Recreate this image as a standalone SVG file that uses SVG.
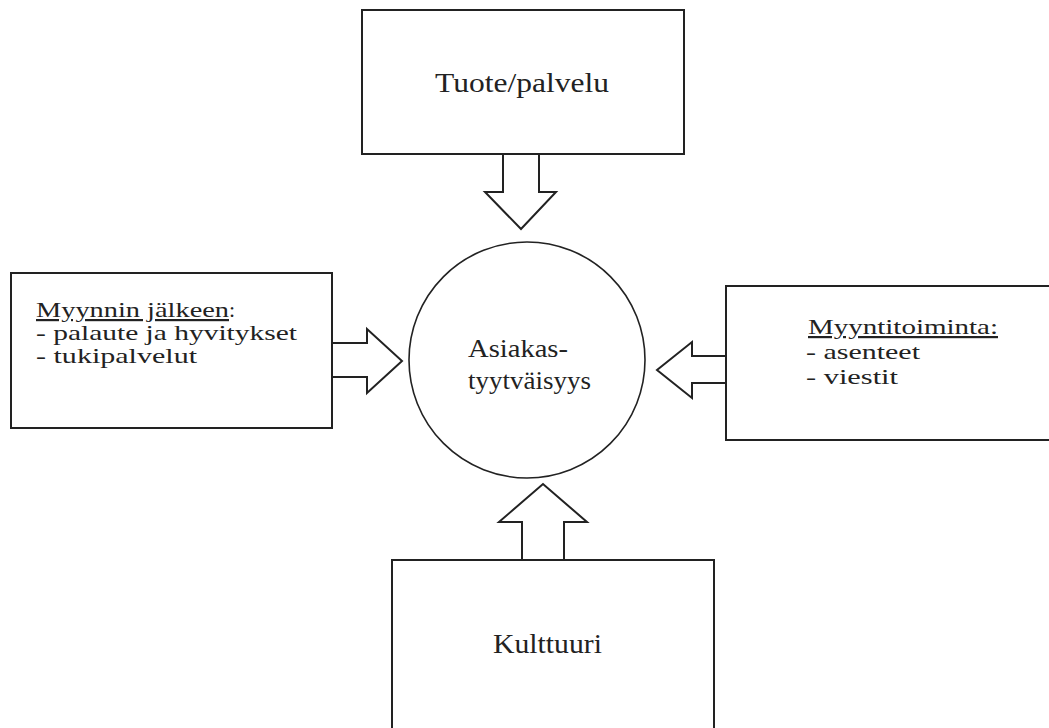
<svg xmlns="http://www.w3.org/2000/svg" width="1049" height="728" viewBox="0 0 1049 728">
<style>
.box{fill:#fff;stroke:#222;stroke-width:2}
.circ{fill:#fff;stroke:#222;stroke-width:1.6}
.arr{fill:#fff;stroke:#222;stroke-width:2;stroke-linejoin:miter}
.t{font-family:"Liberation Serif","Times New Roman",serif;fill:#222}
.u{text-decoration:underline}
</style>
<rect width="1049" height="728" fill="#fff"/>
<g id="connectors">
<polygon class="arr" points="503,154 503,192 485,192 521,229 556,192 539,192 539,154"/>
<polygon class="arr" points="332,343 367,343 367,329 402,361 367,393 367,377 332,377"/>
<polygon class="arr" points="726,356 692,356 692,342 657,370 692,398 692,383 726,383"/>
<polygon class="arr" points="522,560 522,522 499,522 543,484 587,522 564,522 564,560"/>
</g>
<g id="node-tuote">
<rect class="box" x="362" y="10" width="322" height="144"/>
<text class="t" x="435" y="92" font-size="28" textLength="174" lengthAdjust="spacingAndGlyphs">Tuote/palvelu</text>
</g>
<g id="node-asiakastyytyvaisyys">
<circle class="circ" cx="527" cy="360" r="118"/>
<text class="t" x="468" y="357" font-size="26" textLength="100" lengthAdjust="spacingAndGlyphs">Asiakas-</text>
<text class="t" x="468" y="389" font-size="26" textLength="123" lengthAdjust="spacingAndGlyphs">tyytväisyys</text>
</g>
<g id="node-myynnin-jalkeen">
<rect class="box" x="11" y="273" width="321" height="155"/>
<text class="t u" x="36" y="317" font-size="22" textLength="193" lengthAdjust="spacingAndGlyphs">Myynnin jälkeen</text>
<text class="t" x="229" y="317" font-size="22">:</text>
<text class="t" x="36" y="340" font-size="22" textLength="261" lengthAdjust="spacingAndGlyphs">- palaute ja hyvitykset</text>
<text class="t" x="36" y="363" font-size="22" textLength="161" lengthAdjust="spacingAndGlyphs">- tukipalvelut</text>
</g>
<g id="node-myyntitoiminta">
<rect class="box" x="726" y="286" width="340" height="154"/>
<text class="t u" x="808" y="334" font-size="22" textLength="190" lengthAdjust="spacingAndGlyphs">Myyntitoiminta:</text>
<text class="t" x="806" y="359" font-size="22" textLength="114" lengthAdjust="spacingAndGlyphs">- asenteet</text>
<text class="t" x="806" y="384" font-size="22" textLength="92" lengthAdjust="spacingAndGlyphs">- viestit</text>
</g>
<g id="node-kulttuuri">
<rect class="box" x="392" y="560" width="322" height="200"/>
<text class="t" x="493" y="653" font-size="27" textLength="109" lengthAdjust="spacingAndGlyphs">Kulttuuri</text>
</g>
</svg>
